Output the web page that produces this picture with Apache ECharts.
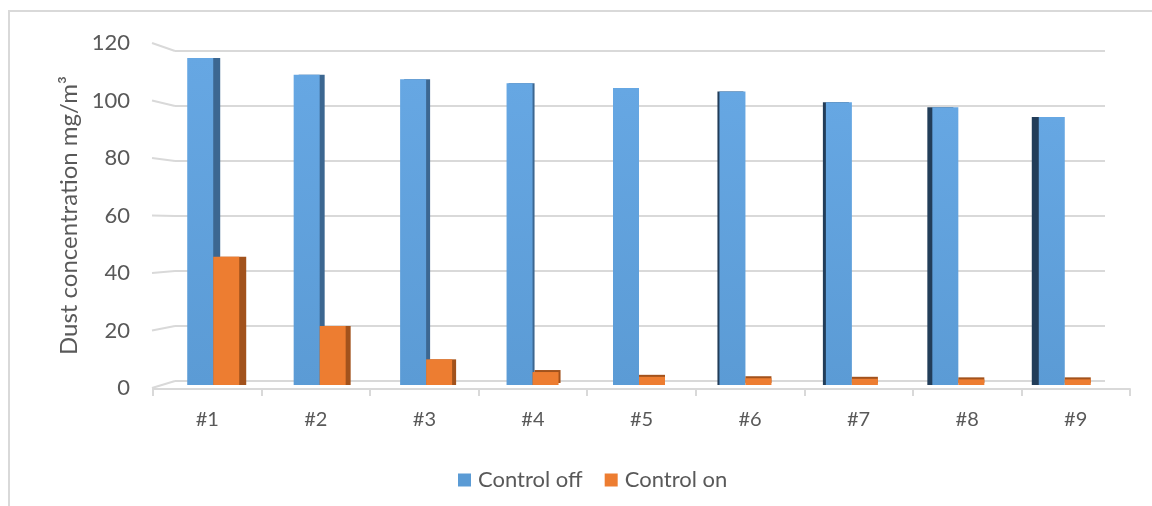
<!DOCTYPE html>
<html>
<head>
<meta charset="utf-8">
<title>Dust concentration</title>
<script src="https://cdn.jsdelivr.net/npm/echarts@6/dist/echarts.min.js"></script>
<style>
  html, body { margin: 0; padding: 0; background: #ffffff; }
  #wrap { position: relative; width: 1152px; height: 506px; overflow: hidden; }
  #frame { position: absolute; left: 8px; top: 10px; width: 1300px; height: 700px;
           border-left: 2px solid #d9d9d9; border-top: 2px solid #d9d9d9; }
  #chart { position: absolute; left: 0; top: 0; width: 1152px; height: 506px; }
</style>
</head>
<body>
<div id="wrap">
  <div id="frame"></div>
  <div id="chart"></div>
</div>
<script>
// Sampling points
const categories = ['#1', '#2', '#3', '#4', '#5', '#6', '#7', '#8', '#9'];

// Dust concentration, mg/m³
const controlOff = [116, 110, 108.4, 107, 105.3, 104.1, 100.3, 98.5, 95];
const controlOn = [45.5, 20.9, 9.1, 4.6, 2.9, 2.4, 2.2, 2.0, 2.0];

// Value axis ticks
const yTicks = [0, 20, 40, 60, 80, 100, 120];
const Y_MAX = 120;
const Y_STEP = 20;

// Layout: back wall (grid lines), front label plane, bar plane, floor edge
const WALL = { left: 175, right: 47, top: 51, height: 330 };
const LABELS = { left: 152, right: 47, top: 43, height: 345 };
const BARS = { left: 160, right: 34, top: 46.6, height: 338.4 };
const FLOOR = { left: 153, right: 22, top: 46, height: 343 };

const FONT = 'Lato, "Open Sans", sans-serif';
const TEXT = '#595959';
const LINE = '#d9d9d9';

// Side faces of the columns turn from right to left across the row
function sideOffset(i) {
  return Math.round(7 - 14 * i / (categories.length - 1));
}

const offData = controlOff.map((v, i) => {
  const dx = sideOffset(i);
  return {
    value: v,
    itemStyle: {
      shadowBlur: 0,
      shadowOffsetX: dx,
      shadowOffsetY: 0,
      shadowColor: dx >= 0 ? '#3c6791' : '#223d59'
    }
  };
});

const onData = controlOn.map((v, i) => {
  const dx = sideOffset(i);
  return {
    value: v,
    itemStyle: {
      shadowBlur: 0,
      shadowOffsetX: i <= 3 ? Math.max(dx, 0) : 0,
      shadowOffsetY: i >= 3 ? -2 : 0,
      shadowColor: '#a2521c'
    }
  };
});

const chart = echarts.init(document.getElementById('chart'), null, { renderer: 'canvas' });

chart.setOption({
  animation: false,
  backgroundColor: 'transparent',
  textStyle: { fontFamily: FONT },
  legend: {
    data: [
      { name: 'Control off', itemStyle: { color: '#5b9bd5' } },
      { name: 'Control on', itemStyle: { color: '#ed7d31' } }
    ],
    left: 453,
    top: 464,
    icon: 'rect',
    itemWidth: 13,
    itemHeight: 13,
    itemGap: 22,
    textStyle: { fontFamily: FONT, fontSize: 22, color: TEXT, padding: [0, 0, 0, 2] }
  },
  grid: [
    { left: WALL.left, right: WALL.right, top: WALL.top, height: WALL.height },
    { left: LABELS.left, right: LABELS.right, top: LABELS.top, height: LABELS.height },
    { left: BARS.left, right: BARS.right, top: BARS.top, height: BARS.height },
    { left: FLOOR.left, right: FLOOR.right, top: FLOOR.top, height: FLOOR.height }
  ],
  xAxis: [
    { gridIndex: 0, type: 'value', min: 0, max: 1, show: false },
    { gridIndex: 1, type: 'value', min: 0, max: 1, show: false },
    { gridIndex: 2, type: 'category', data: categories, show: false },
    {
      gridIndex: 3,
      type: 'category',
      data: categories,
      axisLine: { lineStyle: { color: LINE, width: 2 } },
      axisTick: { show: true, length: 7, lineStyle: { color: LINE, width: 2 } },
      axisLabel: { margin: 21, fontFamily: FONT, fontSize: 20, color: TEXT },
      splitLine: { show: false }
    }
  ],
  yAxis: [
    {
      gridIndex: 0, type: 'value', min: 0, max: Y_MAX, interval: Y_STEP,
      axisLine: { show: false }, axisTick: { show: false }, axisLabel: { show: false },
      splitLine: { show: true, lineStyle: { color: LINE, width: 2 } }
    },
    {
      gridIndex: 1, type: 'value', min: 0, max: Y_MAX, interval: Y_STEP,
      axisLine: { show: false }, axisTick: { show: false },
      axisLabel: {
        margin: 22, fontFamily: FONT, fontSize: 22, color: TEXT,
        formatter: v => (yTicks.indexOf(v) >= 0 ? String(v) : '')
      },
      splitLine: { show: false },
      name: 'Dust concentration mg/m³',
      nameLocation: 'middle',
      nameGap: 70,
      nameTextStyle: { fontFamily: FONT, fontSize: 24, color: TEXT }
    },
    { gridIndex: 2, type: 'value', min: 0, max: Y_MAX, show: false },
    { gridIndex: 3, type: 'value', min: 0, max: Y_MAX, show: false }
  ],
  series: [
    {
      name: 'Control off',
      type: 'bar',
      xAxisIndex: 2,
      yAxisIndex: 2,
      barWidth: 26,
      barGap: '0%',
      itemStyle: {
        color: new echarts.graphic.LinearGradient(0, 0, 0, 1, [
          { offset: 0, color: '#66a7e3' },
          { offset: 1, color: '#5b9bd5' }
        ])
      },
      data: offData
    },
    {
      name: 'Control on',
      type: 'bar',
      xAxisIndex: 2,
      yAxisIndex: 2,
      barWidth: 26,
      barGap: '0%',
      itemStyle: { color: '#ed7d31' },
      data: onData
    },
    {
      // Grid lines run onto the side wall, down to the label plane
      name: 'wall-edges',
      type: 'custom',
      xAxisIndex: 0,
      yAxisIndex: 0,
      silent: true,
      clip: false,
      z: 1,
      data: yTicks.map(v => [0, v]),
      renderItem: function (params, api) {
        const v = api.value(1);
        const p = api.coord([0, v]);
        const ly = LABELS.top + (Y_MAX - v) / Y_MAX * LABELS.height;
        return {
          type: 'line',
          shape: { x1: LABELS.left, y1: ly, x2: p[0], y2: p[1] },
          style: { stroke: LINE, lineWidth: 2 }
        };
      }
    }
  ]
});
</script>
</body>
</html>
